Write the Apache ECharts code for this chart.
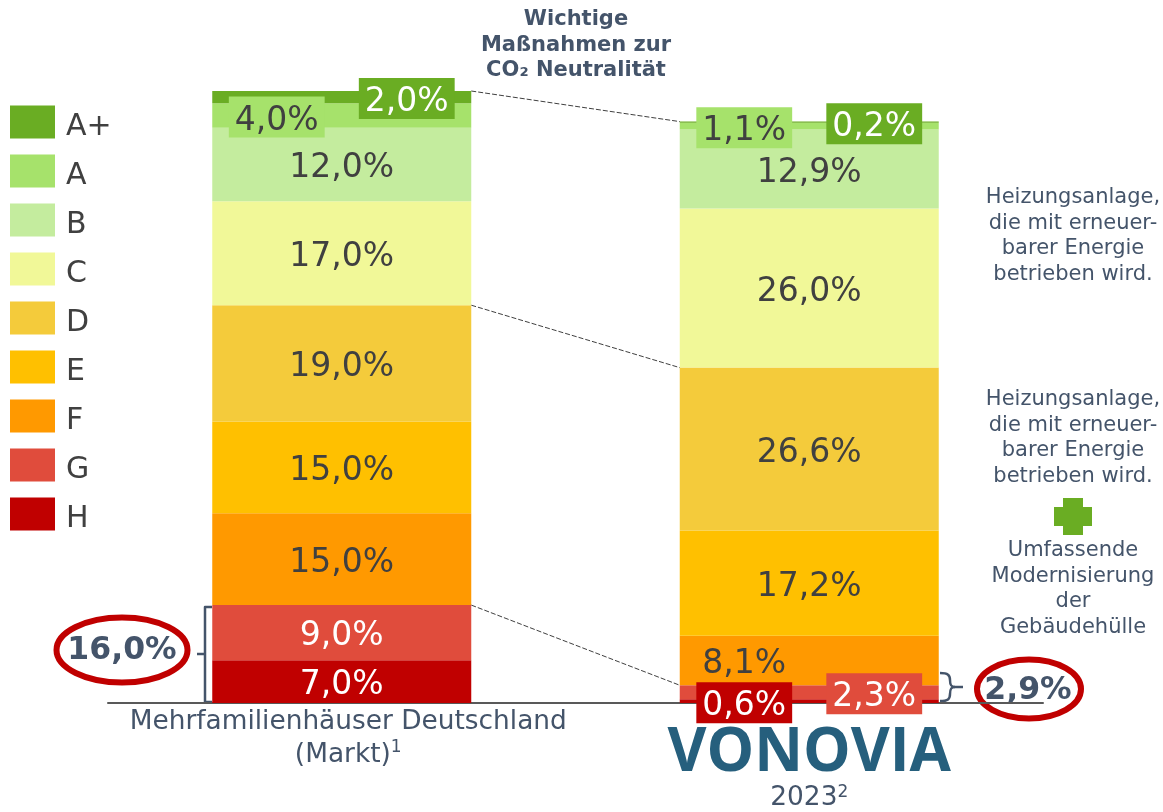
<!DOCTYPE html>
<html style="height: 100%">
<head>
    <meta charset="utf-8">
</head>
<body style="height: 100%; margin: 0; background: #fff">
    <div id="container" style="width: 1163px; height: 812px"></div>

    <script type="text/javascript" src="https://cdn.jsdelivr.net/npm/echarts@6/dist/echarts.min.js"></script>
    <script type="text/javascript">
        var categories = ['Mehrfamilienhäuser Deutschland\n(Markt)^1', 'VONOVIA\n2023^2'];

        // bottom of the stack first
        var classes = ['H', 'G', 'F', 'E', 'D', 'C', 'B', 'A', 'A+'];
        var legendOrder = ['A+', 'A', 'B', 'C', 'D', 'E', 'F', 'G', 'H'];
        var valuesH = [7.0, 0.6];
        var valuesG = [9.0, 2.3];
        var valuesF = [15.0, 8.1];
        var valuesE = [15.0, 17.2];
        var valuesD = [19.0, 26.6];
        var valuesC = [17.0, 26.0];
        var valuesB = [12.0, 12.9];
        var valuesA = [4.0, 1.1];
        var valuesAplus = [2.0, 0.2];
        var allValues = [valuesH, valuesG, valuesF, valuesE, valuesD, valuesC, valuesB, valuesA, valuesAplus];

        var colors = ['#c00000', '#e04c3c', '#ff9900', '#ffc000', '#f4cb3b', '#f1f898', '#c4ec9e', '#a6e26b', '#6aad23'];
        var lightText = ['H', 'G', 'A+'];

        // labels pushed sideways: [class, category index, direction]
        var sideLabels = [['A', 0, -1], ['A+', 0, 1], ['A', 1, -1], ['A+', 1, 1], ['H', 1, -1], ['G', 1, 1], ['F', 1, -1]];
        // filled box only where the label leaves its segment
        var boxedLabels = [['A', 0], ['A+', 0], ['A', 1], ['A+', 1], ['H', 1], ['G', 1]];

        var summaryLeft = '16,0%';
        var summaryRight = '2,9%';

        var title = 'Wichtige\nMaßnahmen zur\nCO₂ Neutralität';
        var noteTop = 'Heizungsanlage,\ndie mit erneuer-\nbarer Energie\nbetrieben wird.';
        var noteMiddle = 'Heizungsanlage,\ndie mit erneuer-\nbarer Energie\nbetrieben wird.';
        var noteBottom = 'Umfassende\nModernisierung\nder\nGebäudehülle';

        var FONT = '"DejaVu Sans", Verdana, sans-serif';
        var SLATE = '#44546a';
        var RED = '#c00000';
        var BAR_WIDTH = 259;

        function stackUpTo(count, i) {
            var sum = 0;
            for (var k = 0; k < count; k++) sum += allValues[k][i];
            return sum;
        }

        // connector levels: top of stack, top of D, top of G
        var connectors = [
            [stackUpTo(9, 0), stackUpTo(9, 1)],
            [stackUpTo(5, 0), stackUpTo(5, 1)],
            [stackUpTo(2, 0), stackUpTo(2, 1)]
        ];

        function find(list, cls, i) {
            for (var k = 0; k < list.length; k++) {
                if (list[k][0] === cls && list[k][1] === i) return list[k];
            }
            return null;
        }

        var series = classes.map(function (cls, c) {
            return {
                name: cls,
                type: 'bar',
                stack: 'total',
                barWidth: BAR_WIDTH,
                itemStyle: { color: colors[c] },
                z: 2,
                data: allValues[c].map(function (v, i) {
                    var side = find(sideLabels, cls, i);
                    var boxed = find(boxedLabels, cls, i);
                    return {
                        value: v,
                        label: {
                            show: true,
                            position: 'inside',
                            formatter: v.toFixed(1).replace('.', ',') + '%',
                            fontFamily: FONT,
                            fontSize: 33,
                            color: lightText.indexOf(cls) >= 0 ? '#fff' : '#404040',
                            // top padding only shifts the text when anchored at the top
                            verticalAlign: boxed ? 'top' : 'middle',
                            offset: [side ? side[2] * 65 : 0, boxed ? -19 : 4],
                            backgroundColor: boxed ? colors[c] : 'transparent',
                            padding: boxed ? [8, 6, 0, 6] : 0
                        }
                    };
                })
            };
        });

        series.push({
            type: 'custom',
            silent: true,
            z: 1,
            data: connectors,
            encode: { y: [0, 1] },
            renderItem: function (params, api) {
                var half = BAR_WIDTH / 2;
                var a = api.coord([0, api.value(0)]);
                var b = api.coord([1, api.value(1)]);
                return {
                    type: 'line',
                    shape: { x1: a[0] + half, y1: a[1], x2: b[0] - half, y2: b[1] },
                    style: { stroke: '#404040', lineWidth: 1, lineDash: [5, 2] }
                };
            }
        });

        function curve(x1, y1, cx1, cy1, cx2, cy2, x2, y2) {
            return {
                type: 'bezierCurve',
                shape: { x1: x1, y1: y1, cpx1: cx1, cpy1: cy1, cpx2: cx2, cpy2: cy2, x2: x2, y2: y2 },
                style: { stroke: SLATE, lineWidth: 2.5, fill: null }
            };
        }

        // "text^1" becomes a text token plus a raised digit
        function labelLine(style, line) {
            var parts = line.split('^');
            return '{' + style + '|' + parts[0] + '}' + (parts[1] ? '{sup|' + parts[1] + '}' : '');
        }

        var option = {
            animation: false,
            backgroundColor: '#fff',
            textStyle: { fontFamily: FONT },
            legend: {
                orient: 'vertical',
                left: 5,
                top: 97,
                itemWidth: 45,
                itemHeight: 33,
                itemGap: 9,
                icon: 'rect',
                data: legendOrder,
                selectedMode: false,
                formatter: '{t|{name}}',
                textStyle: {
                    rich: { t: { fontFamily: FONT, fontSize: 30, color: '#404040', lineHeight: 30, padding: [10, 0, 0, 6] } }
                }
            },
            grid: { left: 108, right: 120, top: 91, height: 612, containLabel: false },
            xAxis: {
                type: 'category',
                data: categories,
                axisTick: { show: false },
                axisLine: { lineStyle: { color: '#595959', width: 2 } },
                z: 1,
                axisLabel: {
                    margin: 3,
                    interval: 0,
                    formatter: function (value, index) {
                        var parts = value.split('\n');
                        if (index === 0) return labelLine('market', parts[0]) + '\n' + labelLine('market', parts[1]);
                        return '{gap| }\n{logo|' + parts[0] + '}\n' + labelLine('year', parts[1]);
                    },
                    rich: {
                        market: { fontFamily: FONT, fontSize: 26.4, color: SLATE, lineHeight: 33, padding: [0, 0, 0, 13] },
                        gap: { fontSize: 4, lineHeight: 18 },
                        logo: { fontFamily: '"Open Sans", sans-serif', fontWeight: 'bold', fontSize: 60, color: '#265f7d', lineHeight: 60 },
                        year: { fontFamily: FONT, fontSize: 26.4, color: SLATE, lineHeight: 28 },
                        sup: { fontFamily: FONT, fontSize: 17, color: SLATE, lineHeight: 28, verticalAlign: 'top' }
                    }
                }
            },
            yAxis: { type: 'value', min: 0, max: 100, show: false },
            series: series,
            graphic: { elements: [
                { type: 'text', x: 576, y: 7, style: { text: title, fill: SLATE, font: 'bold 21px ' + FONT, lineHeight: 25.5, align: 'center' } },
                { type: 'text', x: 1073, y: 185, style: { text: noteTop, fill: SLATE, font: '21px ' + FONT, lineHeight: 25.6, align: 'center' } },
                { type: 'text', x: 1073, y: 387, style: { text: noteMiddle, fill: SLATE, font: '21px ' + FONT, lineHeight: 25.6, align: 'center' } },
                { type: 'text', x: 1073, y: 538, style: { text: noteBottom, fill: SLATE, font: '21px ' + FONT, lineHeight: 25.6, align: 'center' } },
                { type: 'polygon', shape: { points: [[1063, 498], [1083, 498], [1083, 507], [1092, 507], [1092, 526], [1083, 526], [1083, 535], [1063, 535], [1063, 526], [1054, 526], [1054, 507], [1063, 507]] }, style: { fill: '#6aad23' } },
                // left bracket with tick
                { type: 'polyline', shape: { points: [[212, 607], [205, 607], [205, 702], [212, 702]] }, style: { stroke: SLATE, lineWidth: 2.5, lineJoin: 'round', fill: null } },
                { type: 'line', shape: { x1: 197, y1: 654, x2: 205, y2: 654 }, style: { stroke: SLATE, lineWidth: 2.5 } },
                // right curly bracket
                curve(940, 673, 948, 673, 950, 675, 950, 680),
                curve(950, 680, 950, 685, 951, 687, 955, 687),
                curve(955, 687, 951, 687, 950, 689, 950, 694),
                curve(950, 694, 950, 699, 948, 701, 940, 701),
                { type: 'line', shape: { x1: 955, y1: 687, x2: 963, y2: 687 }, style: { stroke: SLATE, lineWidth: 2.5 } },
                { type: 'ellipse', shape: { cx: 122, cy: 650, rx: 65.5, ry: 32.5 }, style: { stroke: RED, lineWidth: 6, fill: null } },
                { type: 'ellipse', shape: { cx: 1029, cy: 689, rx: 52, ry: 29.5 }, style: { stroke: RED, lineWidth: 6, fill: null } },
                { type: 'text', x: 122, y: 651, style: { text: summaryLeft, fill: SLATE, font: 'bold 31.5px ' + FONT, align: 'center', verticalAlign: 'middle' } },
                { type: 'text', x: 1028, y: 691, style: { text: summaryRight, fill: SLATE, font: 'bold 31.5px ' + FONT, align: 'center', verticalAlign: 'middle' } }
            ] }
        };

        var dom = document.getElementById('container');
        var myChart = echarts.init(dom);
        myChart.setOption(option);
    </script>
</body>
</html>
